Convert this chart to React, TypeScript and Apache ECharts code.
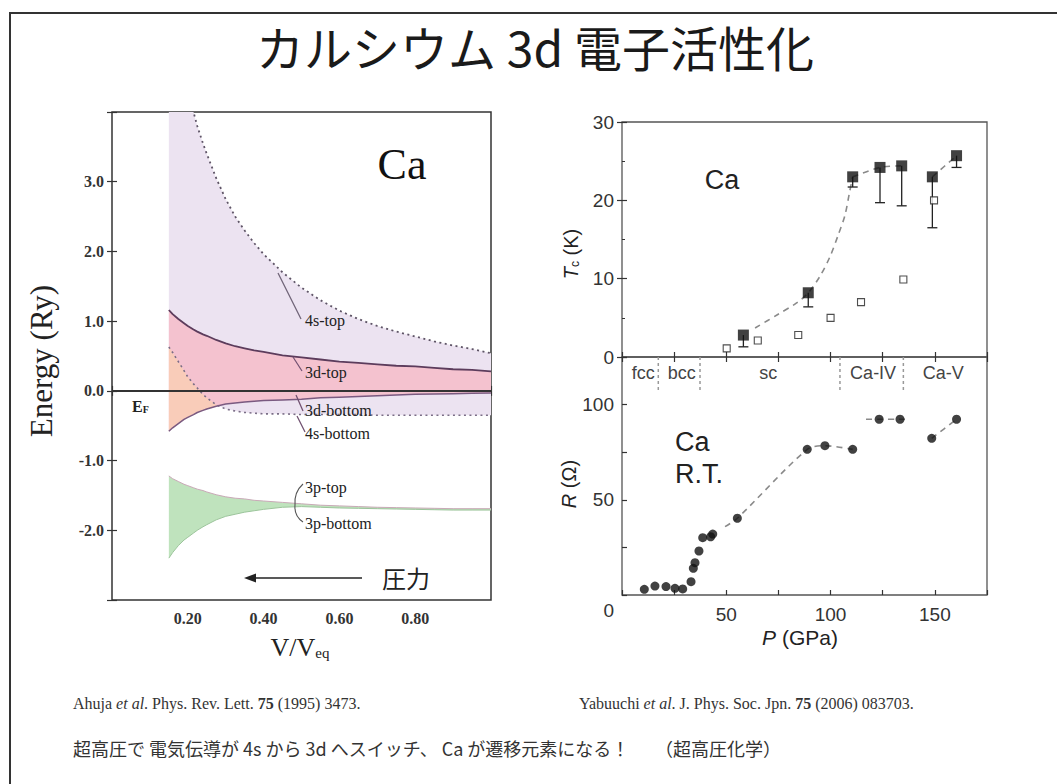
import React, { useEffect, useRef } from 'react';
import * as echarts from 'echarts';

// ---------- Left panel: band edges (Ry) vs V/Veq ----------
const vRatio = [0.15, 0.16, 0.175, 0.19, 0.2, 0.215, 0.225, 0.24, 0.25, 0.275, 0.3, 0.325, 0.35, 0.375, 0.4, 0.45, 0.5, 0.55, 0.6, 0.65, 0.7, 0.75, 0.8, 0.85, 0.9, 0.95, 1.0];
const s4Top = [5.9, 5.5, 5.0, 4.6, 4.35, 4.0, 3.8, 3.55, 3.4, 3.05, 2.75, 2.5, 2.3, 2.12, 1.96, 1.7, 1.48, 1.3, 1.15, 1.03, 0.93, 0.85, 0.78, 0.71, 0.65, 0.6, 0.54];
const s4Bottom = [0.63, 0.55, 0.42, 0.29, 0.2, 0.1, 0.04, -0.05, -0.1, -0.2, -0.26, -0.29, -0.31, -0.32, -0.33, -0.33, -0.34, -0.34, -0.34, -0.34, -0.35, -0.35, -0.35, -0.35, -0.35, -0.35, -0.35];
const d3Top = [1.16, 1.1, 1.03, 0.97, 0.93, 0.88, 0.85, 0.81, 0.79, 0.73, 0.68, 0.64, 0.61, 0.58, 0.56, 0.51, 0.48, 0.45, 0.42, 0.4, 0.38, 0.36, 0.35, 0.33, 0.31, 0.3, 0.28];
const d3Bottom = [-0.58, -0.53, -0.47, -0.41, -0.38, -0.34, -0.31, -0.28, -0.26, -0.22, -0.19, -0.175, -0.16, -0.15, -0.14, -0.13, -0.12, -0.1, -0.09, -0.08, -0.07, -0.06, -0.05, -0.045, -0.04, -0.035, -0.03];
const p3Top = [-1.22, -1.26, -1.3, -1.34, -1.36, -1.39, -1.41, -1.43, -1.45, -1.49, -1.52, -1.54, -1.55, -1.57, -1.58, -1.6, -1.62, -1.64, -1.65, -1.66, -1.67, -1.675, -1.68, -1.685, -1.69, -1.69, -1.69];
const p3Bottom = [-2.4, -2.32, -2.22, -2.14, -2.1, -2.04, -2.0, -1.95, -1.92, -1.85, -1.8, -1.77, -1.74, -1.72, -1.7, -1.67, -1.66, -1.67, -1.68, -1.685, -1.69, -1.695, -1.7, -1.705, -1.71, -1.71, -1.71];
const energyTicks = [-2, -1, 0, 1, 2, 3];
const vTicks = [0.2, 0.4, 0.6, 0.8];

// ---------- Top right: Tc vs P ----------
const tcP = [58.2, 89.3, 110.6, 123.7, 134.1, 148.8, 160.4];
const tcFilled = [2.8, 8.2, 23.0, 24.2, 24.4, 23.0, 25.7];
const tcLow = [1.3, 6.4, 21.7, 19.7, 19.3, 16.5, 24.2];
const tcOpenP = [50.2, 65.1, 84.5, 100.0, 114.6, 134.9, 149.6];
const tcOpen = [1.1, 2.1, 2.8, 5.0, 7.0, 9.9, 20.0];
const tcGuideP = [63.8, 74.5, 83.7, 89.3, 94.9, 99.7, 103.7, 106.9, 109.0, 110.6];
const tcGuideT = [3.7, 5.4, 6.9, 8.2, 10.3, 12.8, 15.6, 18.1, 20.9, 23.0];
const tcLinkA = [2, 3, 4];
const tcLinkB = [5, 6];

// ---------- Bottom right: R vs P ----------
const rP = [10.7, 15.8, 21.1, 25.4, 29.1, 33.1, 34.2, 35.0, 36.9, 38.7, 42.5, 43.5, 55.3, 88.8, 97.3, 110.6, 123.3, 133.3, 148.5, 160.4];
const rVal = [3.0, 4.7, 4.4, 3.5, 3.2, 7.0, 14.0, 17.0, 23.1, 30.1, 30.6, 32.0, 40.3, 76.5, 78.4, 76.5, 92.3, 92.3, 82.3, 92.3];
const rGuideAP = [49.4, 55.3, 88.8, 97.3, 110.6];
const rGuideAR = [35.9, 40.3, 76.5, 78.4, 76.5];
const rGuideBP = [117, 123.3, 133.3, 137.5];
const rGuideBR = [92.3, 92.3, 92.3, 92.3];
const rGuideCP = [148.5, 160.4];
const rGuideCR = [82.3, 92.3];
const phaseNames = ['fcc', 'bcc', 'sc', 'Ca-IV', 'Ca-V'];
const phaseCenters = [10.2, 28.6, 70.1, 120.4, 154.0];
const phaseBounds = [17.4, 37.4, 104.5, 134.9];

const SERIF = '"Liberation Serif", "DejaVu Serif", serif';
const SANS = '"Liberation Sans", Arial, sans-serif';
const CJK = '"Noto Sans CJK JP", sans-serif';
const INK = '#222';

function pairs(xs: number[], ys: number[]) {
  return xs.map((x, i) => [x, ys[i]]);
}

// filled band between two curves, drawn through the axes with api.coord
function band(name: string, xs: number[], lower: number[], upper: number[], color: string) {
  return {
    type: 'custom',
    name,
    xAxisIndex: 0,
    yAxisIndex: 0,
    clip: true,
    silent: true,
    z: 2,
    data: xs.map((x, i) => [x, lower[i], upper[i]]),
    encode: { x: 0, y: [1, 2] },
    renderItem: (params: any, api: any) => {
      if (params.dataIndex !== 0) return null;
      const pts: number[][] = [];
      for (let i = 0; i < xs.length; i++) pts.push(api.coord([xs[i], upper[i]]));
      for (let i = xs.length - 1; i >= 0; i--) pts.push(api.coord([xs[i], lower[i]]));
      return { type: 'polygon', shape: { points: pts }, style: { fill: color } };
    },
  };
}

function edge(name: string, xs: number[], ys: number[], color: string, width: number, type: any, extra: any = {}) {
  return {
    type: 'line',
    name,
    xAxisIndex: 0,
    yAxisIndex: 0,
    data: pairs(xs, ys),
    symbol: 'none',
    smooth: false,
    silent: true,
    lineStyle: { color, width, type },
    z: 4,
    ...extra,
  };
}

function guide(xi: number, yi: number, xs: number[], ys: number[]) {
  return {
    type: 'line',
    xAxisIndex: xi,
    yAxisIndex: yi,
    data: pairs(xs, ys),
    symbol: 'none',
    smooth: 0.3,
    silent: true,
    lineStyle: { color: '#8a8a8a', width: 1.6, type: [6, 5] },
    z: 2,
  };
}

function txt(x: number, y: number, text: string, font: any, extra: any = {}) {
  return {
    type: 'text',
    x,
    y,
    z: 100,
    ...extra,
    style: { text, fill: INK, align: 'left', verticalAlign: 'middle', ...font },
  };
}
function seg(x1: number, y1: number, x2: number, y2: number, color = '#333', w = 1.2) {
  return { type: 'line', z: 100, shape: { x1, y1, x2, y2 }, style: { stroke: color, lineWidth: w } };
}

function buildOption(): any {
  const orangeIdx = vRatio.map((_, i) => i).filter((i) => s4Bottom[i] >= d3Bottom[i]);
  const ox = orangeIdx.map((i) => vRatio[i]);
  const oLow = orangeIdx.map((i) => d3Bottom[i]);
  const oUp = orangeIdx.map((i) => s4Bottom[i]);

  const tick = { inside: true, length: 5, lineStyle: { color: '#333', width: 1.2 } };
  const noLine = { show: false };
  const noSplit = { show: false };
  const rightLabel = { fontFamily: SANS, fontSize: 19, color: '#333' };

  const xAxis = [
    {
      gridIndex: 0, type: 'value', min: 0, max: 1, interval: 0.2, position: 'bottom',
      axisLine: noLine, axisTick: tick, splitLine: noSplit,
      axisLabel: {
        formatter: (v: number) => (vTicks.some((t) => Math.abs(t - v) < 1e-6) ? v.toFixed(2) : ''),
        fontFamily: SERIF, fontSize: 16, fontWeight: 'bold', color: '#333', margin: 10,
      },
    },
    {
      gridIndex: 0, type: 'value', min: 0, max: 1, interval: 0.2, position: 'top',
      axisLine: noLine, axisTick: tick, splitLine: noSplit, axisLabel: { show: false },
    },
    {
      gridIndex: 1, type: 'value', min: 0, max: 175, interval: 25, position: 'bottom',
      axisLine: noLine, axisTick: tick, splitLine: noSplit, axisLabel: { show: false },
    },
    {
      gridIndex: 1, type: 'value', min: 0, max: 175, interval: 25, position: 'top',
      axisLine: noLine, axisTick: tick, splitLine: noSplit, axisLabel: { show: false },
    },
    {
      gridIndex: 2, type: 'value', min: 0, max: 175, interval: 25, position: 'bottom',
      axisLine: noLine, axisTick: tick, splitLine: noSplit,
      axisLabel: {
        ...rightLabel, margin: 10,
        formatter: (v: number) => (v > 0 && v % 50 === 0 ? String(v) : ''),
      },
    },
  ];

  const yAxis = [
    {
      gridIndex: 0, type: 'value', min: -3, max: 4, interval: 1, position: 'left',
      axisLine: noLine, axisTick: tick, splitLine: noSplit,
      axisLabel: {
        formatter: (v: number) => (energyTicks.indexOf(v) >= 0 ? v.toFixed(1) : ''),
        fontFamily: SERIF, fontSize: 16, fontWeight: 'bold', color: '#333', margin: 8,
      },
    },
    {
      gridIndex: 0, type: 'value', min: -3, max: 4, interval: 1, position: 'right',
      axisLine: noLine, axisTick: tick, splitLine: noSplit, axisLabel: { show: false },
    },
    {
      gridIndex: 1, type: 'value', min: 0, max: 30, interval: 10, position: 'left',
      axisLine: noLine, axisTick: tick, splitLine: noSplit,
      minorTick: { show: true, splitNumber: 2, length: 3, lineStyle: { color: '#333' } },
      axisLabel: { ...rightLabel, margin: 8 },
    },
    {
      gridIndex: 1, type: 'value', min: 0, max: 30, interval: 10, position: 'right',
      axisLine: noLine, axisTick: tick, splitLine: noSplit, axisLabel: { show: false },
    },
    {
      gridIndex: 2, type: 'value', min: 0, max: 125, interval: 25, position: 'left',
      axisLine: noLine, axisTick: tick, splitLine: noSplit,
      axisLabel: {
        ...rightLabel, margin: 8,
        formatter: (v: number) => (v === 0 ? '{z|0}' : v % 50 === 0 && v < 125 ? String(v) : ''),
        rich: { z: { fontFamily: SANS, fontSize: 19, color: '#333', padding: [30, 0, 0, 0] } },
      },
    },
  ];

  const series: any[] = [
    band('4s band', vRatio, s4Bottom, s4Top, '#ece3f1'),
    band('3d band', vRatio, d3Bottom, d3Top, '#f4c2cf'),
    band('3d below 4s', ox, oLow, oUp, '#f9ccb9'),
    band('3p band', vRatio, p3Bottom, p3Top, '#bfe3bd'),
    edge('4s-top', vRatio, s4Top, '#5e5466', 1.8, [2, 3.5]),
    edge('4s-bottom', vRatio, s4Bottom, '#7a6d86', 1.6, [2, 3.5]),
    edge('3d-top', vRatio, d3Top, '#5c3c5c', 1.8, 'solid'),
    edge('3d-bottom', vRatio, d3Bottom, '#7a5a80', 1.5, 'solid', {
      markLine: {
        silent: true,
        symbol: 'none',
        label: { show: false },
        lineStyle: { color: '#333', width: 2.2, type: 'solid' },
        data: [{ yAxis: 0 }],
      },
    }),
    edge('3p-top', vRatio, p3Top, '#c9a9b7', 1, 'solid'),
    edge('3p-bottom', vRatio, p3Bottom, '#9cc49b', 1, 'solid'),

    // Tc panel
    guide(2, 2, tcGuideP, tcGuideT),
    guide(2, 2, tcLinkA.map((i) => tcP[i]), tcLinkA.map((i) => tcFilled[i])),
    guide(2, 2, tcLinkB.map((i) => tcP[i]), tcLinkB.map((i) => tcFilled[i])),
    {
      type: 'custom',
      name: 'Tc error',
      xAxisIndex: 2,
      yAxisIndex: 2,
      data: tcP.map((p, i) => [p, tcFilled[i], tcLow[i]]),
      encode: { x: 0, y: [1, 2] },
      z: 3,
      renderItem: (params: any, api: any) => {
        const a = api.coord([api.value(0), api.value(1)]);
        const b = api.coord([api.value(0), api.value(2)]);
        const st = { stroke: '#222', lineWidth: 1.3 };
        return {
          type: 'group',
          children: [
            { type: 'line', shape: { x1: a[0], y1: a[1], x2: b[0], y2: b[1] }, style: st },
            { type: 'line', shape: { x1: b[0] - 5, y1: b[1], x2: b[0] + 5, y2: b[1] }, style: st },
          ],
        };
      },
    },
    {
      type: 'scatter',
      name: 'Tc open',
      xAxisIndex: 2,
      yAxisIndex: 2,
      data: pairs(tcOpenP, tcOpen),
      symbol: 'rect',
      symbolSize: 7,
      itemStyle: { color: '#fff', borderColor: '#222', borderWidth: 1.1 },
      z: 4,
    },
    {
      type: 'scatter',
      name: 'Tc',
      xAxisIndex: 2,
      yAxisIndex: 2,
      data: pairs(tcP, tcFilled),
      symbol: 'rect',
      symbolSize: 11,
      itemStyle: { color: '#111' },
      z: 5,
    },

    // R panel
    guide(4, 4, rGuideAP, rGuideAR),
    guide(4, 4, rGuideBP, rGuideBR),
    guide(4, 4, rGuideCP, rGuideCR),
    {
      type: 'scatter',
      name: 'R',
      xAxisIndex: 4,
      yAxisIndex: 4,
      data: pairs(rP, rVal),
      symbol: 'circle',
      symbolSize: 9,
      itemStyle: { color: '#111' },
      z: 5,
    },
    {
      type: 'custom',
      name: 'phase bounds',
      xAxisIndex: 4,
      yAxisIndex: 4,
      data: phaseBounds.map((p) => [p]),
      encode: { x: 0 },
      silent: true,
      renderItem: (params: any, api: any) => {
        const a = api.coord([api.value(0), 125]);
        const b = api.coord([api.value(0), 106.5]);
        return {
          type: 'line',
          shape: { x1: a[0], y1: a[1], x2: b[0], y2: b[1] },
          style: { stroke: '#999', lineWidth: 1.5, lineDash: [3, 3] },
        };
      },
    },
    {
      type: 'custom',
      name: 'phases',
      xAxisIndex: 4,
      yAxisIndex: 4,
      data: phaseCenters.map((p, i) => [p, i]),
      encode: { x: 0 },
      silent: true,
      renderItem: (params: any, api: any) => {
        const c = api.coord([api.value(0), 116.8]);
        return {
          type: 'text',
          x: c[0],
          y: c[1],
          style: {
            text: phaseNames[api.value(1)],
            fill: '#444',
            font: `18px ${SANS}`,
            align: 'center',
            verticalAlign: 'middle',
          },
        };
      },
    },
  ];

  const serifLbl = { font: `16px ${SERIF}`, fill: '#222' };
  const graphic = [
    { type: 'rect', z: 100, shape: { x: 10, y: 13, width: 1200, height: 900 }, style: { fill: 'none', stroke: '#333', lineWidth: 2 } },
    txt(535, 46, 'カルシウム 3d 電子活性化', { font: `48px ${CJK}`, align: 'center', fill: '#1a1a1a' }),
    // left panel annotations
    txt(402, 164, 'Ca', { font: `44px ${SERIF}`, align: 'center', fill: '#111' }),
    txt(305, 320, '4s-top', serifLbl),
    seg(278, 273, 301, 319, '#6f6377'),
    txt(305, 372, '3d-top', serifLbl),
    seg(293, 357, 302, 371, '#6f4f6f'),
    txt(305, 410, '3d-bottom', serifLbl),
    seg(296, 395, 303, 411, '#6f4f6f'),
    txt(305, 433, '4s-bottom', serifLbl),
    seg(297, 416, 305, 432, '#6f4f6f'),
    txt(305, 487, '3p-top', serifLbl),
    txt(305, 523, '3p-bottom', serifLbl),
    { type: 'bezierCurve', z: 100, shape: { x1: 303, y1: 484, x2: 295, y2: 505, cpx1: 294, cpy1: 492 }, style: { stroke: '#555', lineWidth: 1.1, fill: 'none' } },
    { type: 'bezierCurve', z: 100, shape: { x1: 295, y1: 505, x2: 303, y2: 522, cpx1: 294, cpy1: 516 }, style: { stroke: '#555', lineWidth: 1.1, fill: 'none' } },
    {
      type: 'text', z: 100, x: 132, y: 405,
      style: {
        text: '{e|E}{f|F}', align: 'left', verticalAlign: 'middle',
        rich: {
          e: { font: `bold 16px ${SERIF}`, fill: '#222', lineHeight: 19, verticalAlign: 'bottom' },
          f: { font: `bold 10px ${SERIF}`, fill: '#222', lineHeight: 10, verticalAlign: 'bottom' },
        },
      },
    },
    seg(362, 578, 252, 578, '#222', 1.6),
    { type: 'polygon', z: 100, shape: { points: [[244, 578], [256, 573.5], [256, 582.5]] }, style: { fill: '#222' } },
    txt(406, 577, '圧力', { font: `24px ${CJK}`, align: 'center', fill: '#222' }),
    {
      type: 'text', z: 100, x: 41, y: 361, rotation: Math.PI / 2,
      style: { text: 'Energy (Ry)', font: `31px ${SERIF}`, fill: '#222', align: 'center', verticalAlign: 'middle' },
    },
    {
      type: 'text', z: 100, x: 300, y: 645,
      style: {
        text: '{a|V/V}{b|eq}', align: 'center', verticalAlign: 'middle',
        rich: {
          a: { font: `26px ${SERIF}`, fill: '#222', lineHeight: 30, verticalAlign: 'bottom' },
          b: { font: `15px ${SERIF}`, fill: '#222', lineHeight: 13, verticalAlign: 'bottom' },
        },
      },
    },
    // right panels annotations
    txt(722, 180, 'Ca', { font: `27px ${SANS}`, align: 'center', fill: '#222' }),
    txt(675, 442, 'Ca', { font: `27px ${SANS}`, fill: '#222' }),
    txt(675, 474, 'R.T.', { font: `27px ${SANS}`, fill: '#222' }),
    {
      type: 'text', z: 100, x: 569, y: 254, rotation: Math.PI / 2,
      style: {
        text: '{i|T}{s|c}{n| (K)}', align: 'center', verticalAlign: 'middle',
        rich: {
          i: { font: `italic 20px ${SANS}`, fill: '#222', lineHeight: 24, verticalAlign: 'bottom' },
          s: { font: `12px ${SANS}`, fill: '#222', lineHeight: 12, verticalAlign: 'bottom' },
          n: { font: `20px ${SANS}`, fill: '#222', lineHeight: 24, verticalAlign: 'bottom' },
        },
      },
    },
    {
      type: 'text', z: 100, x: 569, y: 484, rotation: Math.PI / 2,
      style: {
        text: '{i|R}{n| (Ω)}', align: 'center', verticalAlign: 'middle',
        rich: {
          i: { font: `italic 20px ${SANS}`, fill: '#222' },
          n: { font: `20px ${SANS}`, fill: '#222' },
        },
      },
    },
    {
      type: 'text', z: 100, x: 800, y: 637,
      style: {
        text: '{i|P}{n| (GPa)}', align: 'center', verticalAlign: 'middle',
        rich: {
          i: { font: `italic 21px ${SANS}`, fill: '#222' },
          n: { font: `21px ${SANS}`, fill: '#222' },
        },
      },
    },
    // references
    {
      type: 'text', z: 100, x: 73, y: 703,
      style: {
        text: '{r|Ahuja }{it|et al}{r|. Phys. Rev. Lett. }{b|75}{r| (1995) 3473.}', align: 'left', verticalAlign: 'middle',
        rich: {
          r: { font: `16px ${SERIF}`, fill: '#333' },
          it: { font: `italic 16px ${SERIF}`, fill: '#333' },
          b: { font: `bold 16px ${SERIF}`, fill: '#333' },
        },
      },
    },
    {
      type: 'text', z: 100, x: 579, y: 703,
      style: {
        text: '{r|Yabuuchi }{it|et al}{r|. J. Phys. Soc. Jpn. }{b|75}{r| (2006) 083703.}', align: 'left', verticalAlign: 'middle',
        rich: {
          r: { font: `16px ${SERIF}`, fill: '#333' },
          it: { font: `italic 16px ${SERIF}`, fill: '#333' },
          b: { font: `bold 16px ${SERIF}`, fill: '#333' },
        },
      },
    },
    txt(73, 748, '超高圧で 電気伝導が 4s から 3d へスイッチ、 Ca が遷移元素になる！', { font: `18px ${CJK}`, fill: '#333' }),
    txt(655, 748, '（超高圧化学）', { font: `18px ${CJK}`, fill: '#333' }),
  ];

  return {
    animation: false,
    backgroundColor: '#fff',
    grid: [
      { left: 112, top: 112, width: 379, height: 488, show: true, borderColor: '#333', borderWidth: 1.5, backgroundColor: 'transparent' },
      { left: 622, top: 122, width: 365, height: 235, show: true, borderColor: '#555', borderWidth: 1.3, backgroundColor: 'transparent' },
      { left: 622, top: 357, width: 365, height: 238, show: true, borderColor: '#555', borderWidth: 1.3, backgroundColor: 'transparent' },
    ],
    xAxis,
    yAxis,
    series,
    graphic,
  };
}

export default function App() {
  const ref = useRef<HTMLDivElement>(null);
  useEffect(() => {
    if (!ref.current) return;
    const chart = echarts.init(ref.current, null, { renderer: 'svg' });
    chart.setOption(buildOption());
    return () => chart.dispose();
  }, []);
  return (
    <div
      ref={ref}
      style={{ position: 'fixed', left: 0, top: 0, width: 1057, height: 784, background: '#fff' }}
    />
  );
}
